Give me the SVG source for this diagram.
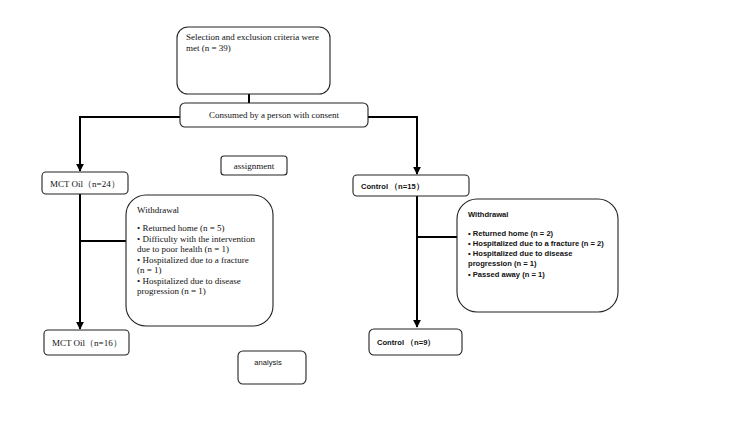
<svg xmlns="http://www.w3.org/2000/svg" width="750" height="422" viewBox="0 0 750 422">
  <style>
    .box { fill: #fff; stroke: #222; stroke-width: 1.1; }
    .serif { font-family: "Liberation Serif", "Times New Roman", serif; font-size: 9px; fill: #111; }
    .sans { font-family: "Liberation Sans", Arial, sans-serif; font-size: 7.6px; fill: #111; font-weight: bold; }
    .link { stroke: #000; stroke-width: 2; fill: none; }
  </style>
  <defs>
    <marker id="arrow" viewBox="0 0 10 10" refX="9" refY="5" markerWidth="4" markerHeight="4" orient="auto">
      <path d="M0,0 L10,5 L0,10 z" fill="#000"/>
    </marker>
  </defs>
  <rect width="750" height="422" fill="#fff"/>

  <g id="connectors">
    <line class="link" x1="249" y1="94" x2="249" y2="104"/>
    <line class="link" x1="80" y1="117" x2="180" y2="117"/>
    <line class="link" x1="368" y1="117" x2="417" y2="117"/>
    <line class="link" x1="80" y1="116" x2="80" y2="171" marker-end="url(#arrow)"/>
    <line class="link" x1="417" y1="116" x2="417" y2="174" marker-end="url(#arrow)"/>
    <line class="link" x1="80" y1="194" x2="80" y2="329" marker-end="url(#arrow)"/>
    <line class="link" x1="80" y1="241" x2="127" y2="241"/>
    <line class="link" x1="417" y1="196" x2="417" y2="327" marker-end="url(#arrow)"/>
    <line class="link" x1="417" y1="237" x2="457" y2="237"/>
  </g>

  <g id="eligible">
    <rect class="box" x="177" y="27" width="153" height="67" rx="11"/>
    <text class="serif" x="186" y="40">Selection and exclusion criteria were</text>
    <text class="serif" x="186" y="51">met (n = 39)</text>
  </g>

  <g id="consent">
    <rect class="box" x="180" y="103" width="188" height="24" rx="5"/>
    <text class="serif" x="274" y="118" text-anchor="middle">Consumed by a person with consent</text>
  </g>

  <g id="assignment">
    <rect class="box" x="221" y="156" width="66" height="19" rx="3"/>
    <text class="serif" x="254" y="169" text-anchor="middle">assignment</text>
  </g>

  <g id="mct-start">
    <rect class="box" x="42" y="172" width="86" height="22" rx="4"/>
    <text class="serif" x="50" y="187">MCT Oil（n=24）</text>
  </g>

  <g id="control-start">
    <rect class="box" x="353" y="175" width="116" height="21" rx="4"/>
    <text class="sans" x="361" y="189">Control （n=15）</text>
  </g>

  <g id="mct-withdrawal">
    <rect class="box" x="126" y="195" width="147" height="131" rx="20"/>
    <text class="serif" x="137" y="213">Withdrawal</text>
    <text class="serif" x="137" y="231">• Returned home (n = 5)</text>
    <text class="serif" x="137" y="242">• Difficulty with the intervention</text>
    <text class="serif" x="137" y="252">due to poor health (n = 1)</text>
    <text class="serif" x="137" y="263">• Hospitalized due to a fracture</text>
    <text class="serif" x="137" y="273"> (n = 1)</text>
    <text class="serif" x="137" y="284">• Hospitalized due to disease</text>
    <text class="serif" x="137" y="294">progression (n = 1)</text>
  </g>

  <g id="control-withdrawal">
    <rect class="box" x="457" y="199" width="161" height="113" rx="20"/>
    <text class="sans" x="468" y="217">Withdrawal</text>
    <text class="sans" x="468" y="236">• Returned home (n = 2)</text>
    <text class="sans" x="468" y="246">• Hospitalized due to a fracture (n = 2)</text>
    <text class="sans" x="468" y="256">• Hospitalized due to disease</text>
    <text class="sans" x="468" y="266">progression (n = 1)</text>
    <text class="sans" x="468" y="277">• Passed away (n = 1)</text>
  </g>

  <g id="mct-end">
    <rect class="box" x="44" y="330" width="85" height="25" rx="4"/>
    <text class="serif" x="52" y="346">MCT Oil（n=16）</text>
  </g>

  <g id="analysis">
    <rect class="box" x="238" y="351" width="68" height="33" rx="5"/>
    <text class="sans" x="268" y="365" text-anchor="middle" style="font-weight:normal">analysis</text>
  </g>

  <g id="control-end">
    <rect class="box" x="369" y="329" width="93" height="26" rx="5"/>
    <text class="sans" x="377" y="345">Control （n=9）</text>
  </g>
</svg>
